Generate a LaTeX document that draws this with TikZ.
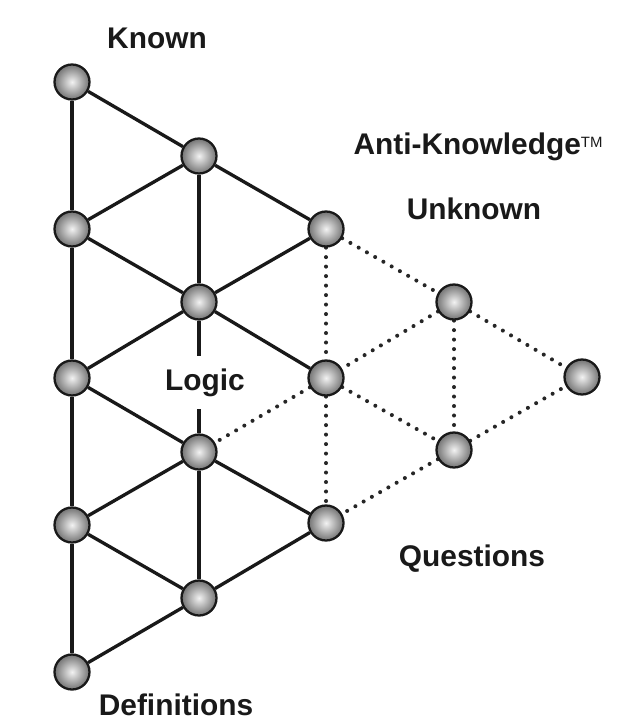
\documentclass[tikz,border=0pt]{standalone}
\usepackage{fontspec}
\setmainfont{Liberation Sans}
\usetikzlibrary{backgrounds}
\begin{document}
\begin{tikzpicture}[x=0.02cm,y=-0.02cm,
  ball/.style={circle, minimum size=0.7cm, inner sep=0pt, draw=black!90,
    line width=1.3pt, inner color=gray!10, outer color=black!55},
  known/.style={line width=1.9pt, black!90},
  unknown/.style={line width=2.3pt, black!85, dash pattern=on 0pt off 5.4pt, line cap=round},
  caption/.style={font=\fontsize{17}{20}\selectfont\bfseries, text=black!90,
    anchor=base, inner sep=0pt}]
\useasboundingbox (0,0) rectangle (618,722);

% the lattice of points
\node[ball] (A) at (72,82)  {};
\node[ball] (B) at (199,156) {};
\node[ball] (C) at (72,229) {};
\node[ball] (D) at (326,229) {};
\node[ball] (E) at (199,302) {};
\node[ball] (F) at (72,378) {};
\node[ball] (G) at (326,378) {};
\node[ball] (H) at (199,452) {};
\node[ball] (I) at (72,525) {};
\node[ball] (J) at (326,523) {};
\node[ball] (K) at (199,598) {};
\node[ball] (L) at (72,672) {};
\node[ball] (M) at (454,302) {};
\node[ball] (N) at (454,450) {};
\node[ball] (O) at (582,377) {};

% captions
\node[caption] (known) at (157,49) {Known};
\node[caption] (anti) at (478,155) {Anti-Knowledge{\mdseries\fontsize{8.5}{9}\selectfont\raisebox{0.95ex}{TM}}};
\node[caption] (unknown) at (474,220) {Unknown};
\node[caption, fill=white, inner xsep=1pt, inner ysep=7pt] (logic) at (205,390) {Logic};
\node[caption] (questions) at (472,566) {Questions};
\node[caption] (definitions) at (176,715) {Definitions};

\begin{scope}[on background layer]
  % known links
  \draw[known] (A) -- (C) -- (F) -- (I) -- (L);
  \draw[known] (A) -- (B) -- (D);
  \draw[known] (B) -- (C);
  \draw[known] (C) -- (E);
  \draw[known] (B) -- (E);
  \draw[known] (E) -- (D);
  \draw[known] (E) -- (F);
  \draw[known] (E) -- (G);
  \draw[known] (E) -- (H);
  \draw[known] (F) -- (H);
  \draw[known] (H) -- (I);
  \draw[known] (H) -- (J);
  \draw[known] (H) -- (K);
  \draw[known] (I) -- (K);
  \draw[known] (K) -- (J);
  \draw[known] (K) -- (L);
  % unknown links
  \draw[unknown] (D) -- (G);
  \draw[unknown] (G) -- (J);
  \draw[unknown] (D) -- (M);
  \draw[unknown] (M) -- (G);
  \draw[unknown] (G) -- (H);
  \draw[unknown] (G) -- (N);
  \draw[unknown] (N) -- (J);
  \draw[unknown] (M) -- (N);
  \draw[unknown] (M) -- (O);
  \draw[unknown] (N) -- (O);
\end{scope}
\end{tikzpicture}
\end{document}
